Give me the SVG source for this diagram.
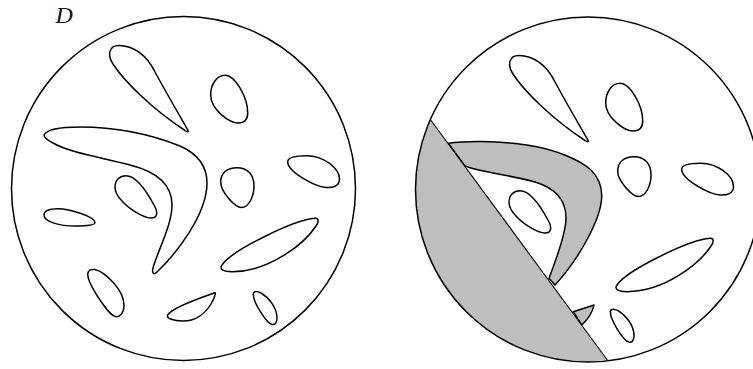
<svg xmlns="http://www.w3.org/2000/svg" width="753" height="369" viewBox="0 0 753 369">
<style>
.o{fill:none;stroke:#000;stroke-width:1.5;stroke-linejoin:round}
.g{fill:#bebebe;stroke:#000;stroke-width:1.5;stroke-linejoin:round}
.t{font-family:"Liberation Serif",serif;font-style:italic;font-size:24px;fill:#111}
</style>
<defs>
<clipPath id="discClip"><circle cx="588" cy="189.5" r="172.5"/></clipPath>
<path id="tear" d="M188,130.5 C184,123 168,96 155,72 C147,55 133,45.5 119,45.5 C109,45.5 107,55 113,64 C124,81 152,109 185,130.5 C187,132 189,132 188,130.5Z"/>
<path id="blobTop" d="M210.7,95 C210.7,84 217,75.3 225,75.3 C235,75.3 247.7,97 247.7,113 C247.7,120 244,123 238,123 C230,123 210.7,110 210.7,95Z"/>
<path id="blobMid" d="M220.7,182 C220.7,173 227,167.7 237,167.7 C248,167.7 254,175 254,186 C254,196 249,207.5 241.5,207.5 C235,207.5 220.7,192 220.7,182Z"/>
<path id="oval" d="M287.7,161.7 C287.7,157 297,155.7 307,155.7 C323,155.7 339.5,168 339.5,179 C339.5,186 333,188 326,187.5 C315,186.5 287.7,172 287.7,161.7Z"/>
<path id="long" d="M315,218.3 C319,218 319,222 316,226 C305,243 270,271.7 232,271.7 C223,271.7 219,269 222,265 C232,250 295,219.5 315,218.3Z"/>
<path id="petal" d="M253.3,293.5 C254,291 257,291 261,293 C268,297 277,307 277,318 C277,323 275,325 272,324.5 C267,323.5 253,303 253.3,293.5Z"/>
<path id="egg" d="M115,187 C115,180 120,175.7 126,175.7 C136,175.7 147,192 154,205 C158,212 158,218 151,218 C143,218 128,208 122,201 C118,197 115,193 115,187Z"/>
</defs>
<g id="left-disc">
<circle class="o" cx="183.5" cy="188.5" r="172"/>
<use href="#tear" class="o"/>
<path class="o" d="M44,135 C47,129 60,127 80,127 C115,127 150,134 180,146 C198,154 207,167 207,183 C207,215 175,255 157,272 C153,276 152,272 153,268 C158,250 172,225 172,205 C172,185 158,172 130,165 C105,158 70,153 53,143 C47,140 44,138 44,135Z"/>
<use href="#egg" class="o"/>
<use href="#blobTop" class="o"/>
<use href="#blobMid" class="o"/>
<use href="#oval" class="o"/>
<use href="#long" class="o"/>
<use href="#petal" class="o"/>
<path class="o" d="M215,292.7 C216,292.5 215,297 211,304 C205,314 195,321 183,321 C173,321 165,318 168,314.5 C173,307 200,298 215,292.7Z"/>
<path class="o" d="M44,215 C44,210 50,208.7 58,208.7 C70,208.7 95,217 95,222.5 C95,225.5 85,226 75,226 C60,226 44,222 44,215Z"/>
<path class="o" d="M87.7,274 C88,270 91,269 95,269.5 C105,272 124,290 124,305 C124,313 120,316.7 116.5,316.7 C111,316.7 104,306 98,297 C93,289 87.5,281 87.7,274Z"/>
<text class="t" x="55.5" y="22.5">D</text>
</g>
<g id="right-disc">
<path class="g" d="M448.3,143.3 C465,141 495,140.5 526.7,145 C555,149 580,160 591,170 C599,178 602,187 601.7,197 C601,220 578,260 555,285 L549,278.3 C555,262 566,235 566,218 C566,200 555,188 535,182 C510,175 480,172 465,166 Z"/>
<path class="g" d="M573.3,311.7 L594,305 C593,311 588,320 581.7,325 Z"/>
<path d="M430.7,120 L607.3,360 L400,380 L400,100 Z" fill="#bebebe" clip-path="url(#discClip)"/>
<path d="M430.7,120 L607.3,360" fill="none" stroke="#000" stroke-width="1.1"/>
<circle class="o" cx="588" cy="189.5" r="172.5"/>
<use href="#tear" class="o" transform="translate(400,10)"/>
<use href="#blobTop" class="o" transform="translate(395,8)"/>
<use href="#blobMid" class="o" transform="translate(397,-11)"/>
<use href="#oval" class="o" transform="translate(394,7.5)"/>
<use href="#long" class="o" transform="translate(395,20)"/>
<use href="#petal" class="o" transform="translate(357,17.6)"/>
<use href="#egg" class="o" transform="translate(394,15)"/>
</g>
</svg>
